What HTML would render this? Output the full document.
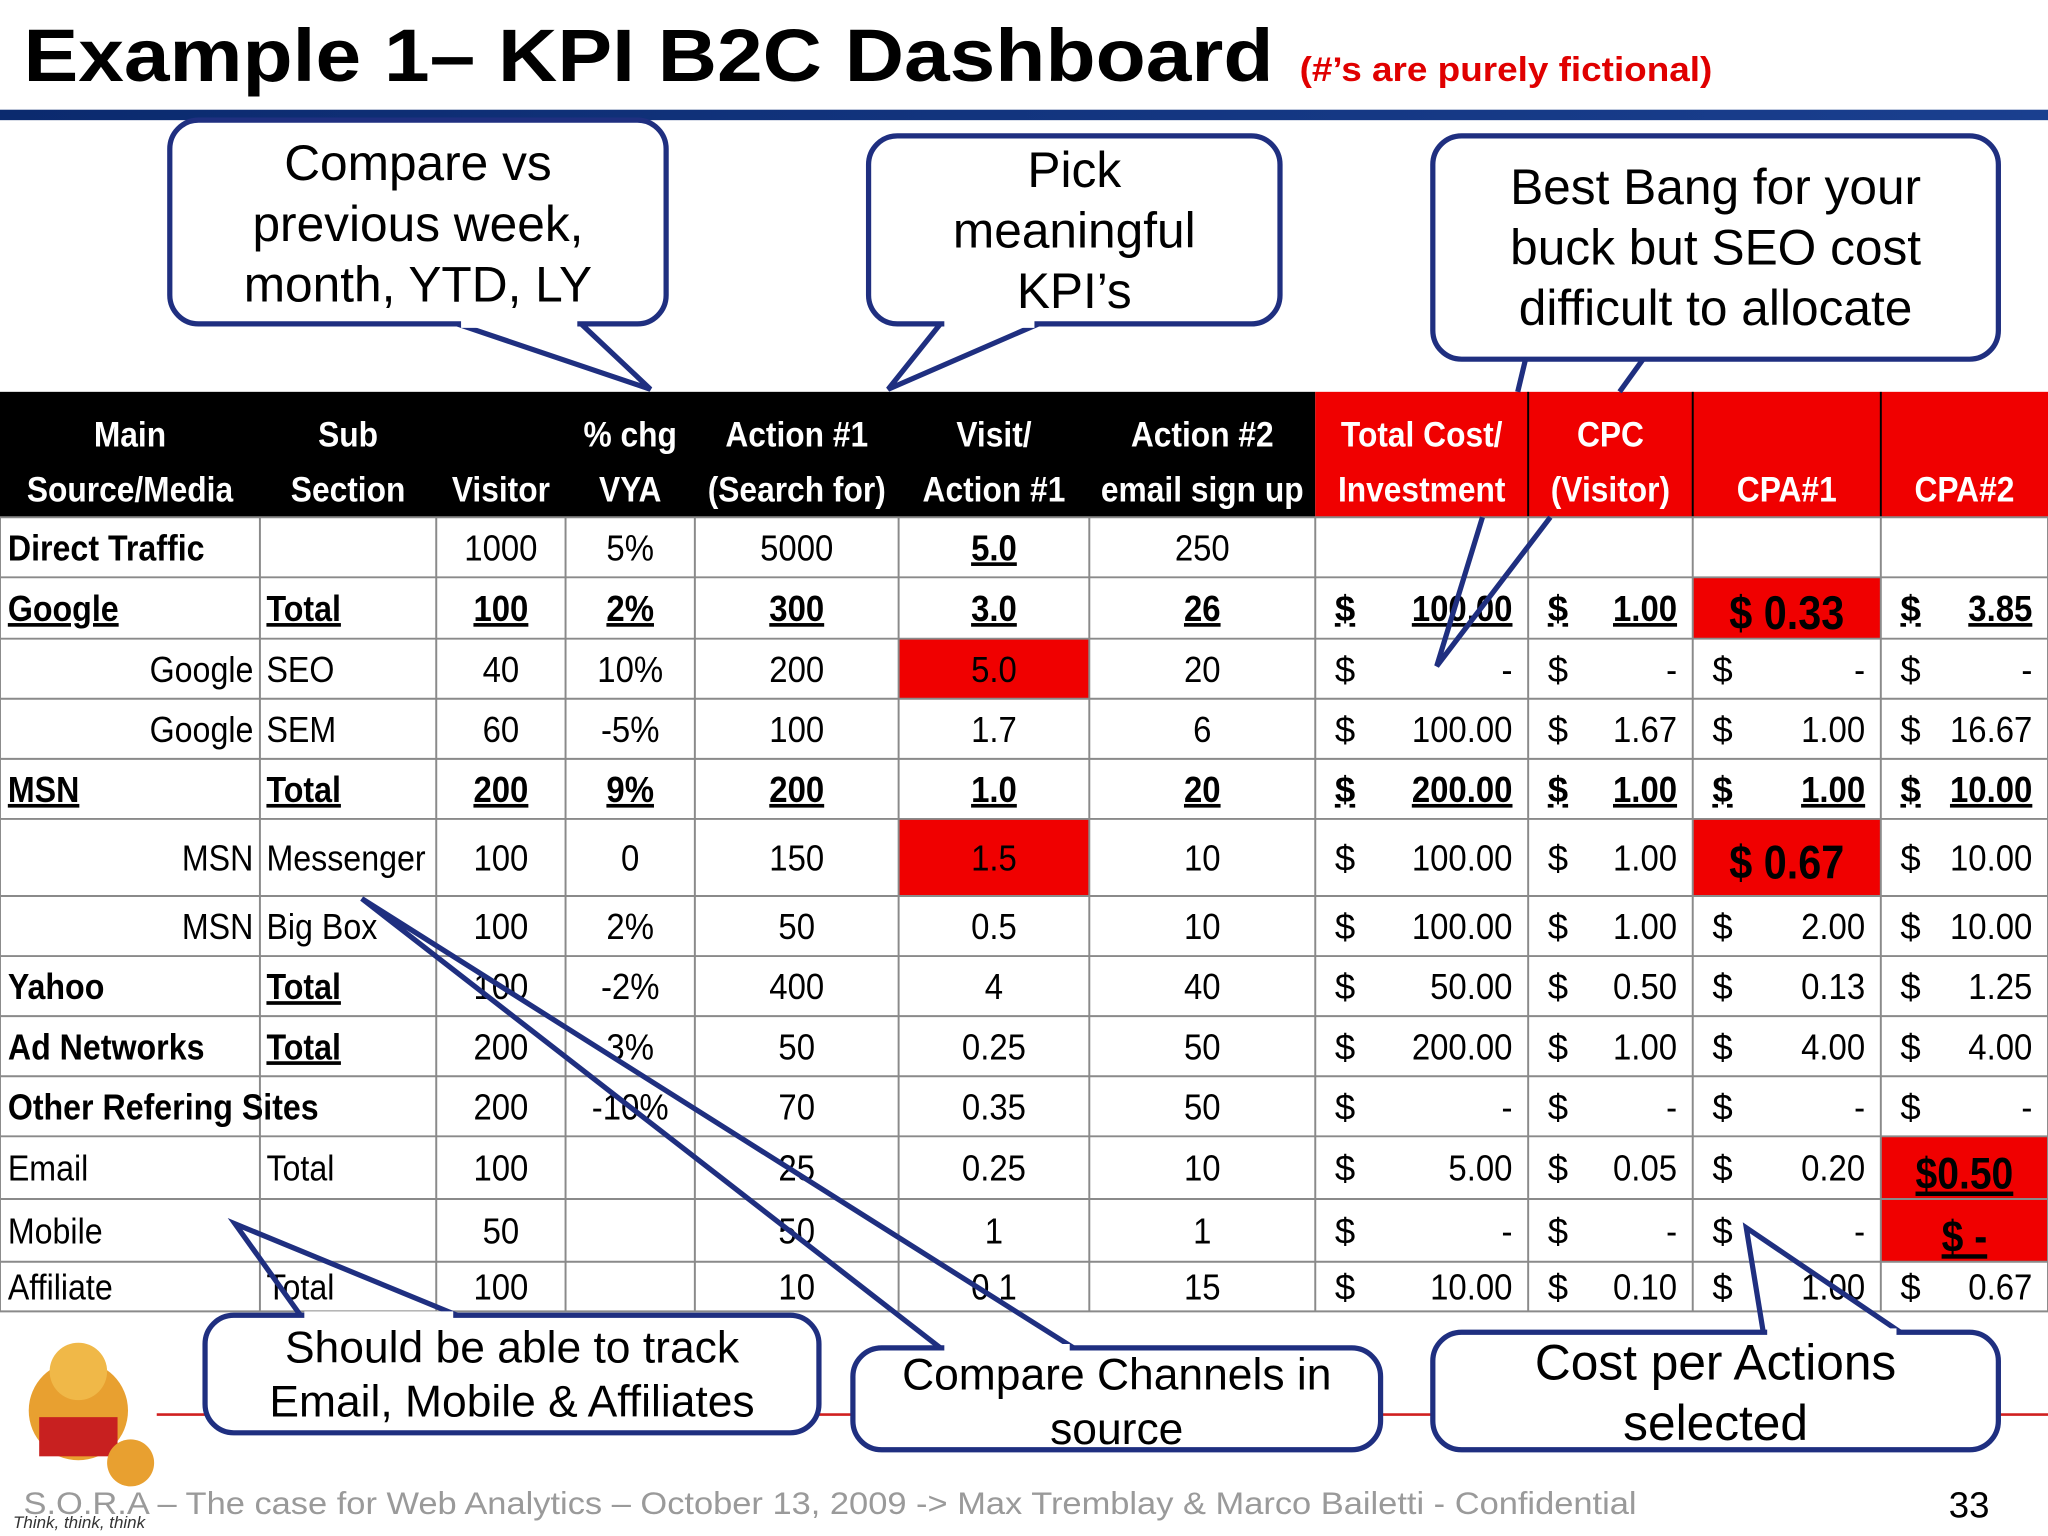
<!DOCTYPE html>
<html><head><meta charset="utf-8">
<style>
html,body{margin:0;padding:0;background:#fff;}
svg{display:block;}
.t{font-family:"Liberation Sans Narrow","Liberation Sans",sans-serif;}
.a{font-family:"Liberation Sans",sans-serif;}
</style></head>
<body>
<svg id="s" width="2048" height="1536" viewBox="0 0 1568 1176" xmlns="http://www.w3.org/2000/svg">
<defs>
<linearGradient id="bar" x1="0" x2="1"><stop offset="0" stop-color="#0b2a6e"/><stop offset="1" stop-color="#1a3f8f"/></linearGradient>
</defs>
<text class="a" x="18" y="62" font-size="57" font-weight="bold" fill="#000" textLength="957" lengthAdjust="spacingAndGlyphs">Example 1– KPI B2C Dashboard</text>
<text class="a" x="995" y="62" font-size="26" font-weight="bold" fill="#e00000" textLength="316" lengthAdjust="spacingAndGlyphs">(#’s are purely fictional)</text>
<rect x="0" y="84" width="1568" height="8" fill="url(#bar)"/>
<line x1="120" y1="1083" x2="1568" y2="1083" stroke="#d02020" stroke-width="2"/>
<g id="tbl"></g>
<g id="callouts"></g>
<g>
<circle cx="60" cy="1080" r="38" fill="#e8a030"/><circle cx="60" cy="1050" r="22" fill="#f0b848"/>
<rect x="30" y="1085" width="60" height="30" fill="#c82020"/><circle cx="100" cy="1120" r="18" fill="#e8a030"/>
<text class="a" x="10" y="1170" font-size="13" font-style="italic" fill="#333">Think, think, think</text>
</g>
<text class="a" x="18" y="1159" font-size="24" fill="#9a9a9a" textLength="1235" lengthAdjust="spacingAndGlyphs">S.O.R.A – The  case for Web Analytics – October 13, 2009  -&gt; Max Tremblay &amp; Marco Bailetti - Confidential</text>
<text class="a" x="1492" y="1162" font-size="28" fill="#000">33</text>
</svg>
<script>
const NS="http://www.w3.org/2000/svg";
const colX=[0,199,334,433,532,688,834,1007,1170,1296,1440,1568];
const rowY=[396,442,489,535,581,627,686,732,778,824,870,918,966,1004];
const headers=[["Main","Source/Media"],["Sub","Section"],["","Visitor"],["% chg","VYA"],["Action #1","(Search for)"],["Visit/","Action #1"],["Action #2","email sign up"],["Total Cost/","Investment"],["CPC","(Visitor)"],["","CPA#1"],["","CPA#2"]];
const sources=["Direct Traffic","Google","Google","Google","MSN","MSN","MSN","Yahoo","Ad Networks","Other Refering Sites","Email","Mobile","Affiliate"];
const sections=["","Total","SEO","SEM","Total","Messenger","Big Box","Total","Total","","Total","","Total"];
const visitors=["1000","100","40","60","200","100","100","100","200","200","100","50","100"];
const chgVYA=["5%","2%","10%","-5%","9%","0","2%","-2%","3%","-10%","","",""];
const action1=["5000","300","200","100","200","150","50","400","50","70","25","50","10"];
const visitPerAction=["5.0","3.0","5.0","1.7","1.0","1.5","0.5","4","0.25","0.35","0.25","1","0.1"];
const action2=["250","26","20","6","20","10","10","40","50","50","10","1","15"];
const totalCost=["","100.00","-","100.00","200.00","100.00","100.00","50.00","200.00","-","5.00","-","10.00"];
const cpc=["","1.00","-","1.67","1.00","1.00","1.00","0.50","1.00","-","0.05","-","0.10"];
const cpa1=["","0.33","-","1.00","1.00","0.67","2.00","0.13","4.00","-","0.20","-","1.00"];
const cpa2=["","3.85","-","16.67","10.00","10.00","10.00","1.25","4.00","-","0.50","-","0.67"];
const rowKind=["boldname","total","sub","sub","total","sub","sub","boldname","boldname","boldname","plain","plain","plain"];
const redCells=[[2,5],[5,5],[1,9],[5,9],[10,10],[11,10]];

const g=document.getElementById('tbl');
function mk(tag,attrs,parent){const e=document.createElementNS(NS,tag);for(const k in attrs)e.setAttribute(k,attrs[k]);(parent||g).appendChild(e);return e;}
function txt(x,y,s,opt){const e=mk('text',{x:x,y:y,class:'t','font-size':opt.size||28,fill:opt.fill||'#000','text-anchor':opt.anchor||'start'});if(opt.bold)e.setAttribute('font-weight','bold');if(opt.ul)e.setAttribute('text-decoration','underline');e.textContent=s;return e;}
function fit(e,maxw){const w=e.getComputedTextLength();if(w>maxw){e.setAttribute('textLength',maxw);e.setAttribute('lengthAdjust','spacingAndGlyphs');}}
function fitScale(e,f){const w=e.getComputedTextLength();e.setAttribute('textLength',w*f);e.setAttribute('lengthAdjust','spacingAndGlyphs');}

// header
const hb=mk('rect',{x:0,y:300,width:1007,height:96,fill:'#000'});


const hr=mk('rect',{x:1007,y:300,width:561,height:96,fill:'#f00000'});


for(let c=0;c<headers.length;c++){
  const cx=(colX[c]+colX[c+1])/2, cw=colX[c+1]-colX[c]-8;
  const h1=txt(cx,342,headers[c][0],{bold:true,fill:'#fff',anchor:'middle',size:27});
  
  
  const h2=txt(cx,384,headers[c][1],{bold:true,fill:'#fff',anchor:'middle',size:27});
  
  
  fitScale(h1,0.9);fitScale(h2,0.9);fit(h1,cw);fit(h2,cw);
}
for(let c=1;c<colX.length-1;c++){if(c>=8)mk('line',{x1:colX[c],y1:300,x2:colX[c],y2:396,stroke:'#000','stroke-width':1.5});}
redCells.forEach(([r,c])=>{const e=mk('rect',{x:colX[c],y:rowY[r],width:colX[c+1]-colX[c],height:rowY[r+1]-rowY[r],fill:'#f00000'});

});
for(let r=0;r<rowY.length;r++)mk('line',{x1:0,y1:rowY[r],x2:1568,y2:rowY[r],stroke:'#8a8a8a','stroke-width':1.5});
for(let c=0;c<colX.length;c++)mk('line',{x1:colX[c],y1:396,x2:colX[c],y2:1004,stroke:'#8a8a8a','stroke-width':1.5});

const centerCols=[visitors,chgVYA,action1,visitPerAction,action2];
const moneyCols=[totalCost,cpc,cpa1,cpa2];
for(let r=0;r<sources.length;r++){
  const k=rowKind[r],base=rowY[r]+(rowY[r+1]-rowY[r])/2+10;
  const tot=k==='total';
  let e;
  if(k==='sub') e=txt(colX[1]-5,base,sources[r],{anchor:'end'});
  else e=txt(6,base,sources[r],{bold:k!=='plain',ul:tot});
  
  
  fitScale(e,0.88);
  if(r===9) fit(e,238); else fit(e,188);
  if(sections[r]){e=txt(colX[1]+5,base,sections[r],{bold:tot||k==='boldname',ul:tot||k==='boldname'});
  
  
  fitScale(e,0.88);fit(e,126);}
  centerCols.forEach((arr,i)=>{const c=i+2;const ul=tot||(r===0&&c===5);
    e=txt((colX[c]+colX[c+1])/2,base,arr[r],{anchor:'middle',bold:ul,ul:ul});
    
    
    if(arr[r])fitScale(e,0.9);});
  moneyCols.forEach((arr,i)=>{const c=i+7;const v=arr[r];if(v==='')return;
    const red=redCells.some(p=>p[0]===r&&p[1]===c);
    if(red){
      let s,opt={anchor:'middle',bold:true,size:36,fill:'#000'};
      if(c===10){s=v==='-'?'$  -':'$'+v;opt.ul=true;opt.size=34;}else s='$  '+v;
      e=txt((colX[c]+colX[c+1])/2,base+6,s,opt);
      fitScale(e,0.88);
    }else{
      txt(colX[c]+15,base,'$',{bold:tot,ul:tot});
      e=txt(colX[c+1]-12,base,v,{anchor:'end',bold:tot,ul:tot});
      fitScale(e,0.9);
    }
    
    });
}

const cg=document.getElementById('callouts');
function box(x,y,w,h,lines,fs,name,ly){
  const r=mk('rect',{x:x,y:y,width:w,height:h,rx:22,fill:'#fff',stroke:'#1f2f80','stroke-width':4},cg);
  
  
  lines.forEach((l,i)=>{const t=mk('text',{x:x+w/2,y:ly+i*fs*1.22,class:'a','font-size':fs,'text-anchor':'middle',fill:'#000'},cg);t.textContent=l;
  
  });
}
function tail(pts,cover){mk('polyline',{points:pts,fill:'none',stroke:'#1f2f80','stroke-width':4},cg);
 if(cover)mk('line',{x1:cover[0],y1:cover[1],x2:cover[2],y2:cover[3],stroke:'#fff','stroke-width':6},cg);}
box(130,92,380,156,["Compare vs","previous week,","month, YTD, LY"],38,'callout-compare',138);
tail("350,248 498,298 445,248",[353,248,442,248]);
box(665,104,315,144,["Pick","meaningful","KPI’s"],38,'callout-kpis',143);
tail("720,248 680,298 795,248",[723,248,792,248]);
box(1097,104,433,171,["Best Bang for your","buck but SEO cost","difficult to allocate"],38,'callout-best-bang',156);
tail("1168,275 1162,300",null);tail("1258,275 1240,300",null);
tail("1135,396 1100,510 1187,396",null);
box(157,1007,470,90,["Should be able to track","Email, Mobile & Affiliates"],34,'callout-track',1043);
tail("230,1007 180,937 350,1007",[233,1007,347,1007]);
box(653,1032,404,78,["Compare Channels in","source"],34,'callout-channels',1064);
tail("720,1032 277,688 822,1032",[723,1032,819,1032]);
box(1097,1020,433,90,["Cost per Actions","selected"],38,'callout-cpa',1056);
tail("1350,1020 1337,940 1455,1020",[1353,1020,1452,1020]);
</script>
</body></html>
